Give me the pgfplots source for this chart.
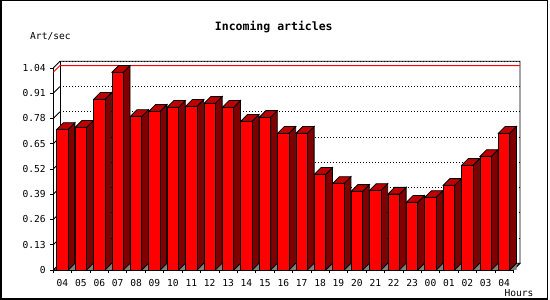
\documentclass[border=0pt]{standalone}
\usepackage{pgfplots}
\pgfplotsset{compat=1.18}
\usepackage{fontspec}
\newfontfamily\monofont{DejaVu Sans Mono}
\definecolor{frontred}{RGB}{255,0,0}
\definecolor{sidered}{RGB}{128,0,0}
\definecolor{topred}{RGB}{192,0,0}
\definecolor{floorgray}{RGB}{128,128,128}
\pgfplotstableread{
x val
0.5 0.724
1.5 0.735
2.5 0.879
3.5 1.018
4.5 0.791
5.5 0.817
6.5 0.838
7.5 0.843
8.5 0.858
9.5 0.838
10.5 0.766
11.5 0.786
12.5 0.704
13.5 0.704
14.5 0.493
15.5 0.446
16.5 0.405
17.5 0.410
18.5 0.391
19.5 0.349
20.5 0.374
21.5 0.436
22.5 0.539
23.5 0.585
24.5 0.704
}\rates
\def\dd{6.7}
\def\aa{5.7}
\pgfdeclareplotmark{bar3d}{%
  \pgfmathsetmacro\hh{\val*194.23}%
  \pgfsetstrokecolor{black}%
  \pgfsetlinewidth{0.8pt}%
  % floor triangle
  \pgfsetfillcolor{floorgray}%
  \pgfpathmoveto{\pgfpoint{\aa pt}{-\hh pt}}%
  \pgfpathlineto{\pgfpoint{\aa pt+\dd pt}{-\hh pt}}%
  \pgfpathlineto{\pgfpoint{\aa pt+\dd pt}{\dd pt-\hh pt}}%
  \pgfpathclose
  \pgfusepath{fill}%
  % side face
  \pgfsetfillcolor{sidered}%
  \pgfpathmoveto{\pgfpoint{\aa pt}{0pt}}%
  \pgfpathlineto{\pgfpoint{\aa pt+\dd pt}{\dd pt}}%
  \pgfpathlineto{\pgfpoint{\aa pt+\dd pt}{\dd pt-\hh pt}}%
  \pgfpathlineto{\pgfpoint{\aa pt}{-\hh pt}}%
  \pgfpathclose
  \pgfusepath{fill,stroke}%
  % top face
  \pgfsetfillcolor{topred}%
  \pgfpathmoveto{\pgfpoint{-\aa pt}{0pt}}%
  \pgfpathlineto{\pgfpoint{\aa pt}{0pt}}%
  \pgfpathlineto{\pgfpoint{\aa pt+\dd pt}{\dd pt}}%
  \pgfpathlineto{\pgfpoint{-\aa pt+\dd pt}{\dd pt}}%
  \pgfpathclose
  \pgfusepath{fill,stroke}%
  % front face
  \pgfsetfillcolor{frontred}%
  \pgfpathrectanglecorners{\pgfpoint{-\aa pt}{0pt}}{\pgfpoint{\aa pt}{-\hh pt}}%
  \pgfusepath{fill,stroke}%
}
\begin{document}
\begin{tikzpicture}
\useasboundingbox (0,0) rectangle (550pt,300pt);
\fill[white] (0,0) rectangle (550pt,300pt);
\draw[line width=1.5pt] (0.75pt,1.2pt) rectangle (547.5pt,299.25pt);
\begin{axis}[
  at={(53.3pt,30pt)}, anchor=south west,
  x=18.4pt, y=194.23pt,
  xmin=0, xmax=25, ymin=0, ymax=1.04,
  clip=false,
  axis x line*=bottom, axis y line*=left,
  axis line style={-, line width=0.8pt},
  tick align=outside,
  major tick length=3pt,
  minor tick length=3.5pt,
  every tick/.style={black, line width=0.8pt},
  xtick={0.5,1.5,...,24.5},
  xticklabels={04,05,06,07,08,09,10,11,12,13,14,15,16,17,18,19,20,21,22,23,00,01,02,03,04},
  major x tick style={draw=none},
  minor xtick={0,1,...,25},
  ytick={0,0.13,0.26,0.39,0.52,0.65,0.78,0.91,1.04},
  yticklabels={0,0.13,0.26,0.39,0.52,0.65,0.78,0.91,1.04},
  ticklabel style={font=\monofont\fontsize{9.6}{11}\selectfont},
  xticklabel style={yshift=-2.5pt},
  yticklabel style={xshift=-1pt},
  ymajorgrids,
  y grid style={black, line width=0.9pt, dash pattern=on 1.2pt off 1.8pt, xshift=\dd pt, yshift=\dd pt},
]
% back frame and left wall
\draw[line width=0.8pt] (axis cs:0,1.04) -- ++(\dd pt,\dd pt) -- ++(460pt,0) -- ++(0,-202.0pt) -- ++(-\dd pt,-\dd pt);
\draw[line width=0.8pt] (axis cs:0,1.04) ++(\dd pt,\dd pt) -- ++(0,-202.0pt);
\pgfplotsinvokeforeach{0.13,0.26,0.39,0.52,0.65,0.78,0.91}{
  \draw[line width=0.8pt] (axis cs:0,#1) -- ++(\dd pt,\dd pt);
}
% maximum line
\draw[red, line width=0.9pt] (axis cs:0,1.018) -- ++(\dd pt,\dd pt) -- ++(460pt,0);
% floor
\filldraw[fill=floorgray, draw=black, line width=0.8pt] (axis cs:0,0) -- (axis cs:25,0) -- ++(\dd pt,\dd pt) -- ++(-460pt,0) -- cycle;
% bars
\addplot[only marks, mark=bar3d, visualization depends on={rawy \as \val}] table[x=x, y=val] {\rates};
\end{axis}
\node[font=\monofont\bfseries\fontsize{11.5}{13}\selectfont] at (273.8pt,273.3pt) {Incoming articles};
\node[font=\monofont\fontsize{9.6}{11}\selectfont, anchor=west, inner sep=0pt] at (30pt,263.3pt) {Art/sec};
\node[font=\monofont\fontsize{9.6}{11}\selectfont, anchor=east, inner sep=0pt] at (533.7pt,7.3pt) {Hours};
\end{tikzpicture}
\end{document}
